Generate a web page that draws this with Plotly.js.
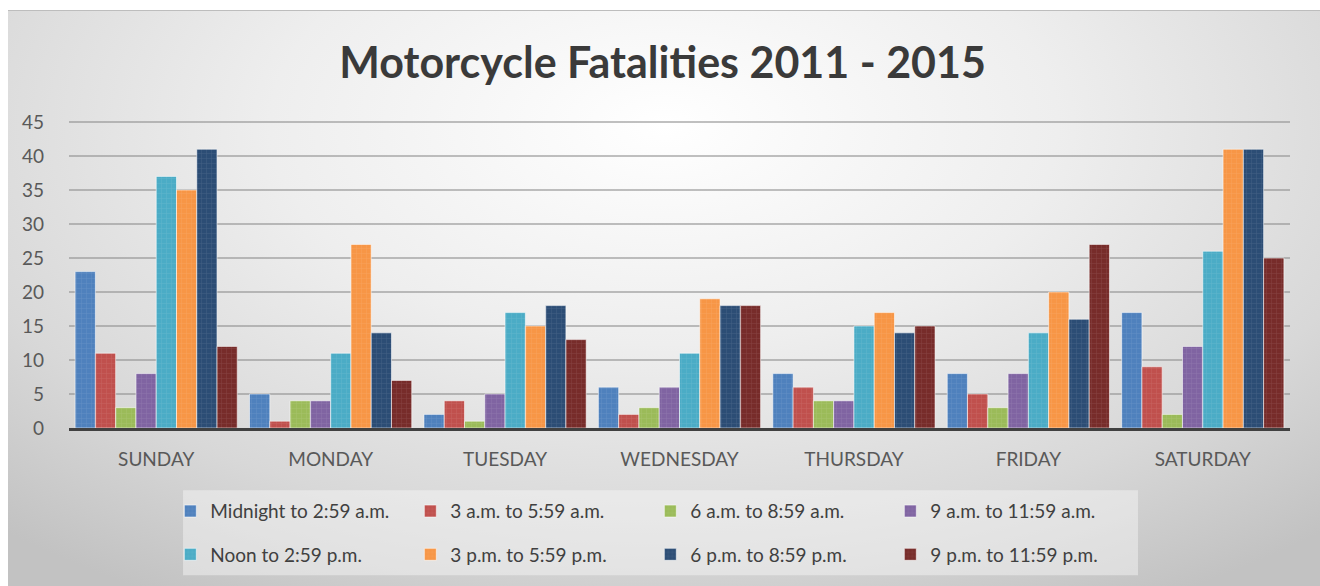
<!DOCTYPE html>
<html><head><meta charset="utf-8">
<script src="https://cdn.plot.ly/plotly-3.0.1.min.js"></script>
<style>
html,body{margin:0;padding:0;background:#fff;}
#chart{width:1320px;height:586px;position:relative;
background: radial-gradient(ellipse 75% 95% at 50% 20%, #ffffff 0%, #eeeeee 40%, #d8d8d8 75%, #c2c2c2 100%) 8px 10px / 1312px 576px no-repeat, #fff;}
#frame{position:absolute;left:8px;top:10px;width:1312px;height:1px;background:#bdbdbd;}
</style></head><body><div id="chart"></div>
<script>
const days = ['SUNDAY','MONDAY','TUESDAY','WEDNESDAY','THURSDAY','FRIDAY','SATURDAY'];
const seriesNames = ['Midnight to 2:59 a.m.','3 a.m. to 5:59 a.m.','6 a.m. to 8:59 a.m.','9 a.m. to 11:59 a.m.',
  'Noon to 2:59 p.m.','3 p.m. to 5:59 p.m.','6 p.m. to 8:59 p.m.','9 p.m. to 11:59 p.m.'];
const midnightTo259am = [23,5,2,6,8,8,17];
const am3To559 = [11,1,4,2,6,5,9];
const am6To859 = [3,4,1,3,4,3,2];
const am9To1159 = [8,4,5,6,4,8,12];
const noonTo259pm = [37,11,17,11,15,14,26];
const pm3To559 = [35,27,15,19,17,20,41];
const pm6To859 = [41,14,18,18,14,16,41];
const pm9To1159 = [12,7,13,18,15,27,25];
const seriesValues = [midnightTo259am, am3To559, am6To859, am9To1159, noonTo259pm, pm3To559, pm6To859, pm9To1159];
const colors = ['#4F81BD','#C0504D','#9BBB59','#8064A2','#4BACC6','#F79646','#2C4D75','#772C2A'];

const FONT = 'Lato, "Open Sans", sans-serif';
const traces = seriesValues.map((vals, i) => ({
  type: 'bar', x: days, y: vals, name: seriesNames[i],
  legend: i < 4 ? 'legend' : 'legend2',
  marker: {
    color: colors[i],
    line: {color: 'rgba(255,255,255,0.55)', width: 1},
    pattern: {shape: '+', fillmode: 'overlay', bgcolor: colors[i], fgcolor: 'rgba(255,255,255,0.22)', size: 5, solidity: 0.2}
  },
  hoverinfo: 'x+y+name'
}));

const legendCommon = {
  orientation: 'h', xref: 'paper', yref: 'paper', x: 0.083, xanchor: 'left', yanchor: 'middle',
  entrywidth: 195, entrywidthmode: 'pixels', bgcolor: 'rgba(0,0,0,0)', borderwidth: 0,
  font: {family: FONT, size: 19, color: '#404040'}, traceorder: 'normal'
};

const layout = {
  width: 1320, height: 586,
  paper_bgcolor: 'rgba(0,0,0,0)', plot_bgcolor: 'rgba(0,0,0,0)',
  margin: {l: 69, r: 30, t: 121, b: 158, pad: 0},
  title: {text: 'Motorcycle Fatalities 2011 - 2015', font: {family: FONT, size: 43, color: '#3a3a3a', weight: 'bold'},
    xref: 'container', x: 0.502, xanchor: 'center', yref: 'container', y: 0.893, yanchor: 'middle'},
  barmode: 'group', bargap: 0.07, bargroupgap: 0,
  xaxis: {type: 'category', showline: true, linecolor: '#404040', linewidth: 3, ticks: '',
    tickfont: {family: FONT, size: 19, color: '#595959'}, ticklabelstandoff: 12, showgrid: false, fixedrange: true},
  yaxis: {range: [0, 45.15], dtick: 5, tick0: 0, showgrid: true, gridcolor: 'rgba(140,140,140,0.55)', gridwidth: 2,
    zeroline: false, showline: false, ticks: '', tickfont: {family: FONT, size: 19, color: '#595959'},
    ticklabelstandoff: 24, fixedrange: true},
  legend: Object.assign({}, legendCommon, {y: -0.271}),
  legend2: Object.assign({}, legendCommon, {y: -0.412}),
  shapes: [{type: 'rect', xref: 'paper', yref: 'paper', x0: 0.0934, x1: 0.8755, y0: -0.480, y1: -0.2026,
    fillcolor: 'rgba(248,248,248,0.45)', line: {width: 0}, layer: 'below'}],
  showlegend: true
};

Plotly.newPlot('chart', traces, layout, {displayModeBar: false}).then(() => {
  const f = document.createElement('div'); f.id = 'frame'; document.getElementById('chart').appendChild(f);
});
</script>
</body></html>
